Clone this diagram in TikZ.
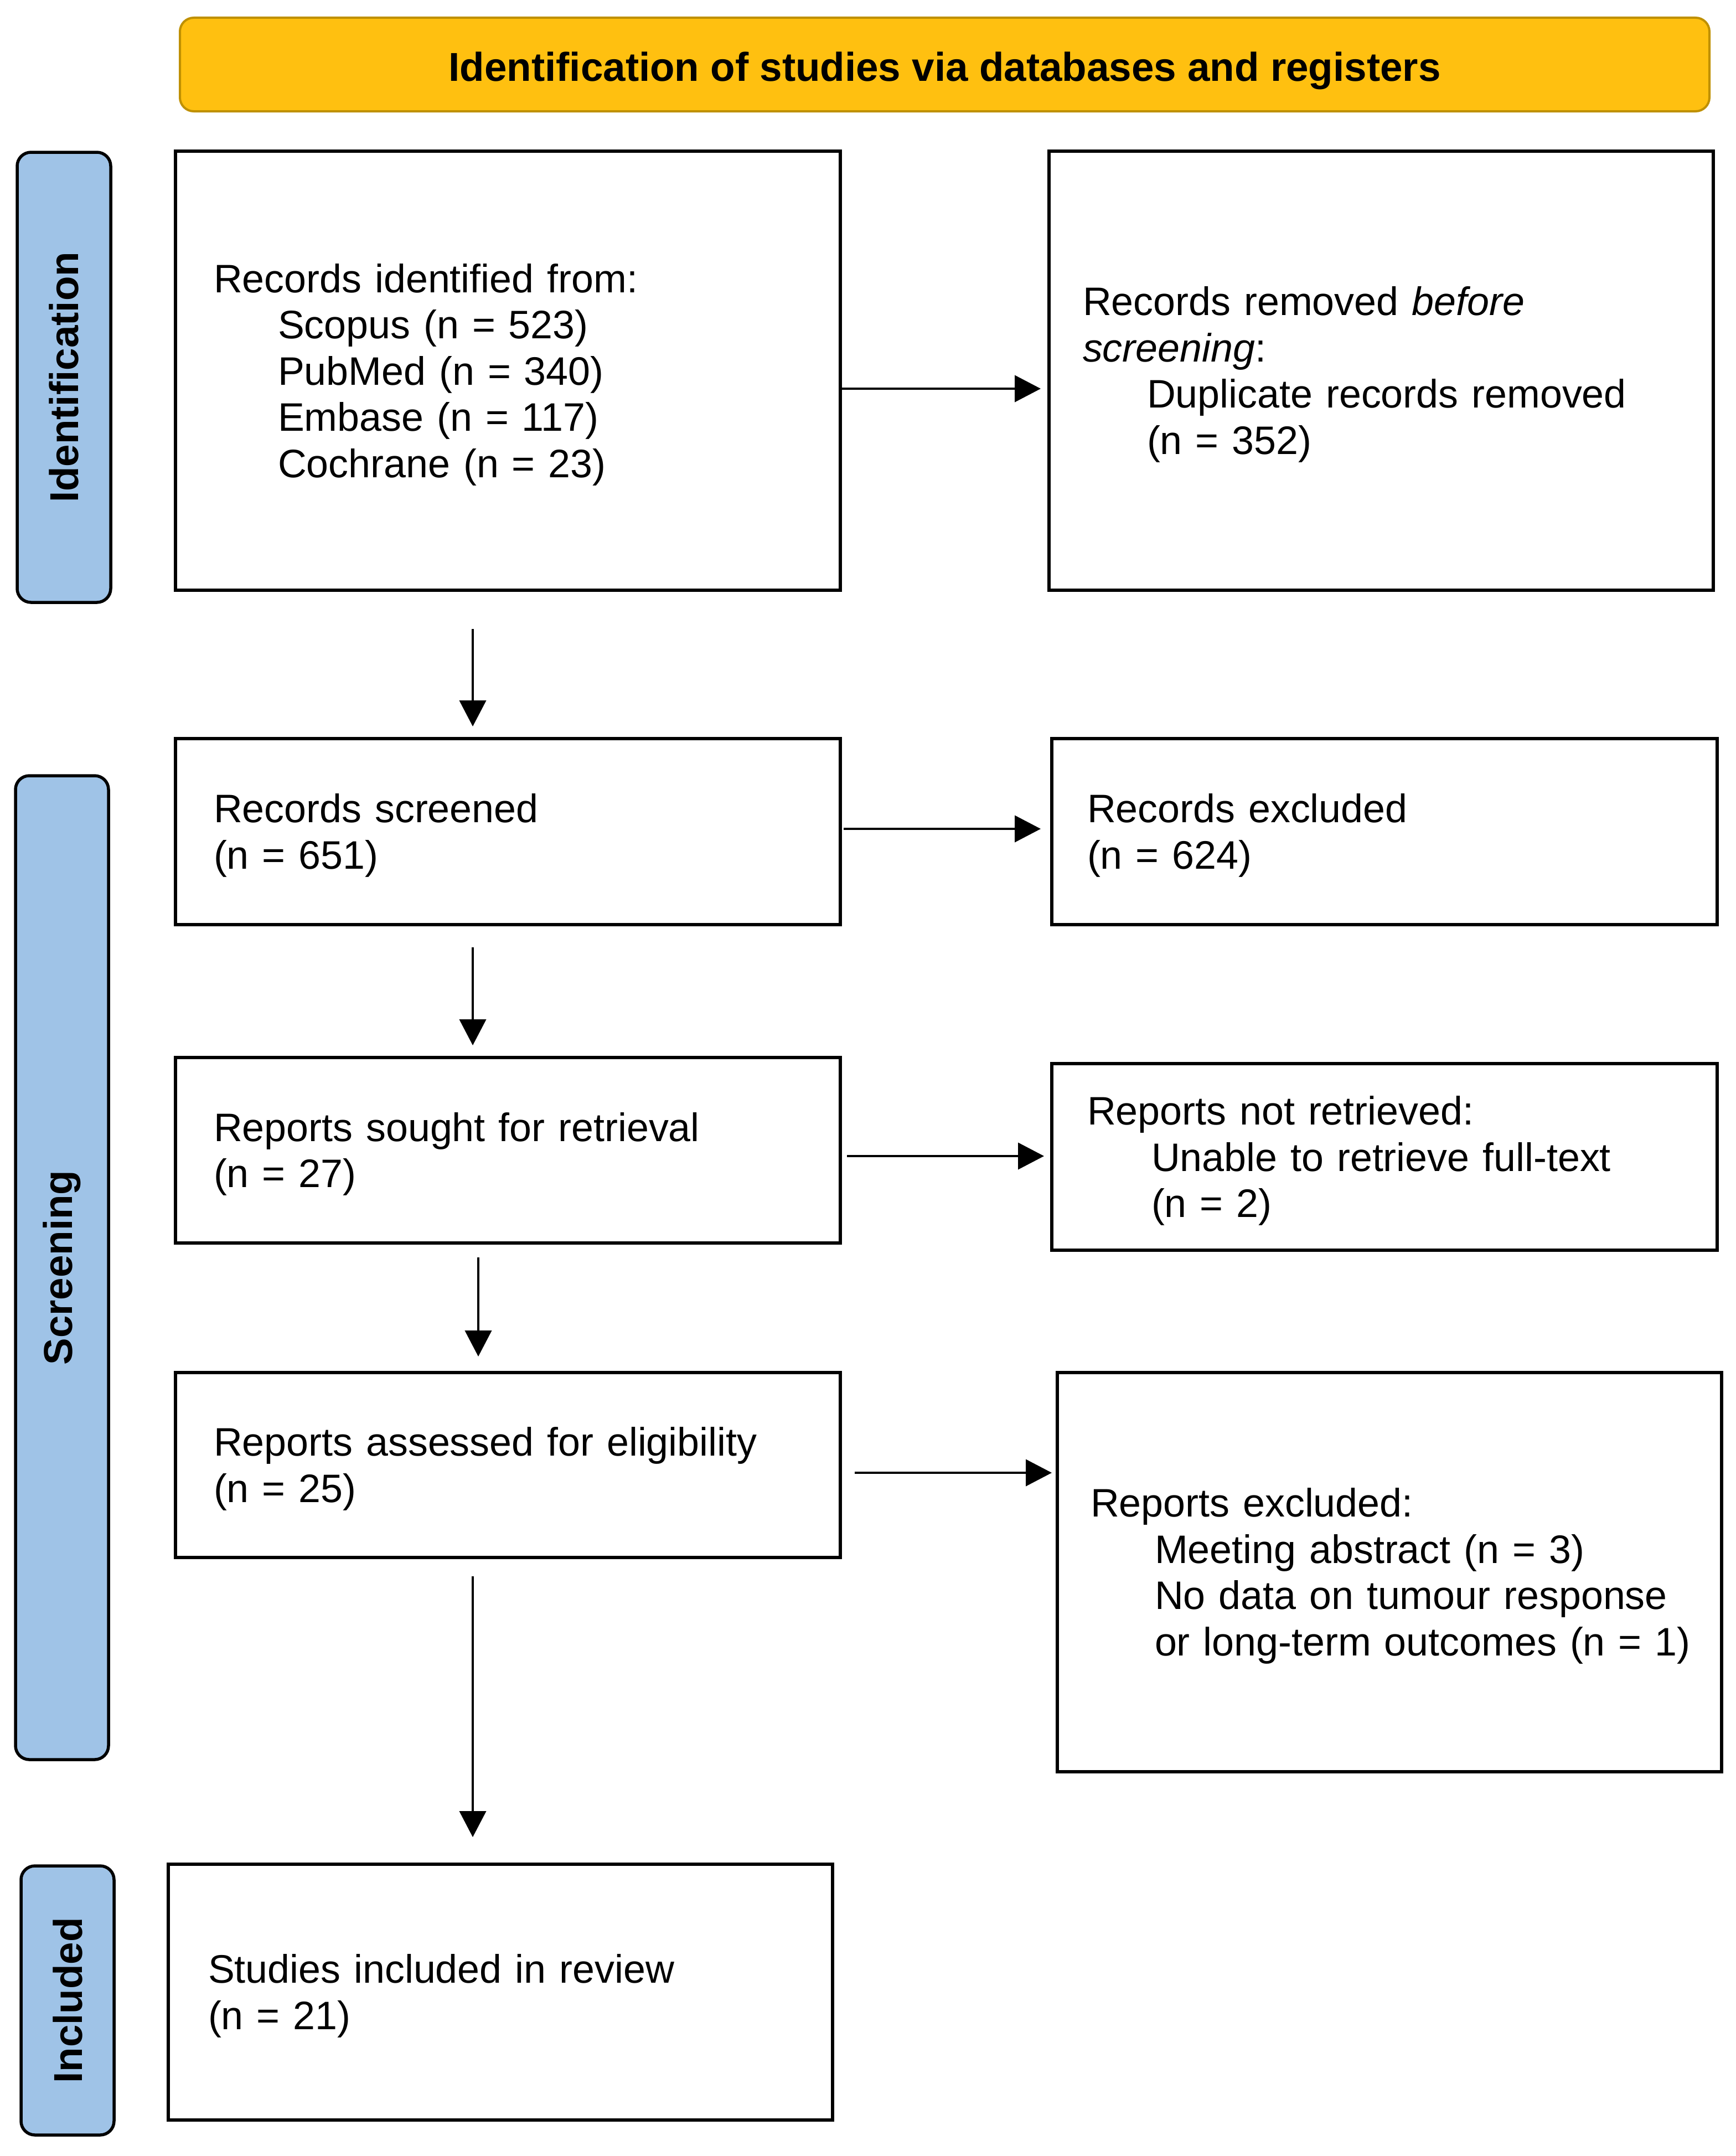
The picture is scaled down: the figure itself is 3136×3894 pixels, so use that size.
\documentclass[tikz,border=0pt]{standalone}
\usepackage{fontspec}
\setmainfont{Liberation Sans}
\usepackage{graphicx}
\usetikzlibrary{arrows.meta}
\definecolor{gold}{HTML}{FFC010}
\definecolor{golddark}{HTML}{BF9000}
\definecolor{sideblue}{HTML}{9FC3E7}
\newcommand{\firstln}{\rule{0pt}{66pt}}
\begin{document}
\begin{tikzpicture}[x=1pt,y=-1pt,
  every node/.style={font=\fontsize{71.8}{83.5}\selectfont},
  box/.style={draw=black, line width=5.5pt, rectangle, align=left, inner ysep=0pt, outer sep=0pt, fill=white},
  side/.style={draw=black, line width=5.5pt, fill=sideblue, rounded corners=25pt, inner sep=0pt, outer sep=0pt, font=\fontsize{72.8}{84}\selectfont\bfseries},
  banner/.style={draw=golddark, line width=4pt, fill=gold, rounded corners=25pt, inner sep=0pt, outer sep=0pt, font=\fontsize{72.8}{84}\selectfont\bfseries},
  arr/.style={line width=4pt, -{Triangle[length=47pt,width=48pt]}}]
\useasboundingbox (0,0) rectangle (3136,3894);

% banner and side labels
\node[banner, minimum width=2763pt, minimum height=169pt] (top) at (1706.5,116.5) {\rule{0pt}{76pt}Identification of studies via databases and registers};
\node[side, minimum width=169pt, minimum height=813pt] (sid) at (115.5,681.5) {\rotatebox{90}{Identification}};
\node[side, minimum width=168pt, minimum height=1777pt] (sscr) at (112,2289.5) {\rotatebox{90}{Screening}};
\node[side, minimum width=168pt, minimum height=486pt] (sinc) at (122,3613) {\rotatebox{90}{Included}};

% main boxes
\node[box, inner xsep=69pt, text width=1063pt, minimum height=793pt] (b1) at (917.5,669.5)
  {\firstln Records identified from:\\
   \hspace*{116pt}Scopus (n = 523)\\
   \hspace*{116pt}PubMed (n = 340)\\
   \hspace*{116pt}Embase (n = 117)\\
   \hspace*{116pt}Cochrane (n = 23)};
\node[box, inner xsep=61pt, text width=1078pt, minimum height=793pt] (r1) at (2495,669.5)
  {\firstln Records removed \textit{before}\\
   \textit{screening}:\\
   \hspace*{116pt}Duplicate records removed\\
   \hspace*{116pt}(n = 352)};

\node[box, inner xsep=69pt, text width=1063pt, minimum height=336pt] (b2) at (917.5,1502)
  {\firstln Records screened\\(n = 651)};
\node[box, inner xsep=64pt, text width=1074pt, minimum height=336pt] (r2) at (2501,1502)
  {\firstln Records excluded\\(n = 624)};

\node[box, inner xsep=69pt, text width=1063pt, minimum height=335pt] (b3) at (917.5,2077.5)
  {\firstln Reports sought for retrieval\\(n = 27)};
\node[box, inner xsep=64pt, text width=1074pt, minimum height=337pt] (r3) at (2501,2089.5)
  {\firstln Reports not retrieved:\\
   \hspace*{116pt}Unable to retrieve full-text\\
   \hspace*{116pt}(n = 2)};

\node[box, inner xsep=69pt, text width=1063pt, minimum height=334pt] (b4) at (917.5,2646)
  {\firstln Reports assessed for eligibility\\(n = 25)};
\node[box, inner xsep=60pt, text width=1080pt, minimum height=721pt] (r4) at (2510,2839.5)
  {\firstln Reports excluded:\\
   \hspace*{116pt}Meeting abstract (n = 3)\\
   \hspace*{116pt}No data on tumour response\\
   \hspace*{116pt}\mbox{or long-term outcomes (n = 1)}};

\node[box, inner xsep=72pt, text width=1056pt, minimum height=462pt] (b5) at (904,3598)
  {\firstln Studies included in review\\(n = 21)};

% horizontal arrows
\draw[arr, shorten >=15pt] (b1.east |- 0,702) -- (r1.west |- 0,702);
\draw[arr, shorten <=6pt, shorten >=20pt] (b2.east |- 0,1497) -- (r2.west |- 0,1497);
\draw[arr, shorten <=12pt, shorten >=14pt] (b3.east |- 0,2088) -- (r3.west |- 0,2088);
\draw[arr, shorten <=26pt, shorten >=10pt] (b4.east |- 0,2660) -- (r4.west |- 0,2660);

% vertical arrows
\draw[arr, shorten <=70pt, shorten >=22pt] (b1.south -| 854,0) -- (b2.north -| 854,0);
\draw[arr, shorten <=41pt, shorten >=22pt] (b2.south -| 854,0) -- (b3.north -| 854,0);
\draw[arr, shorten <=26pt, shorten >=29pt] (b3.south -| 864,0) -- (b4.north -| 864,0);
\draw[arr, shorten <=34pt, shorten >=49pt] (b4.south -| 854,0) -- (b5.north -| 854,0);
\end{tikzpicture}
\end{document}
